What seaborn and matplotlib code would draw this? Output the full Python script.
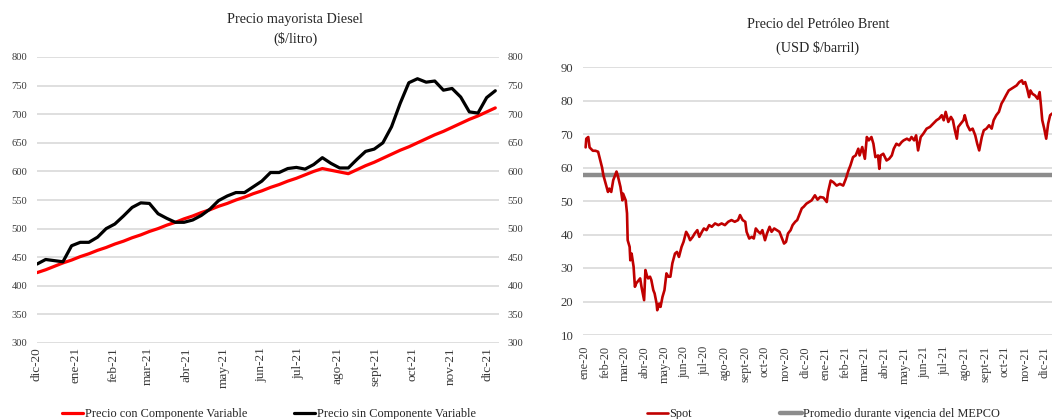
import numpy as np
import pandas as pd
import matplotlib
matplotlib.use("Agg")
import matplotlib.pyplot as plt
import seaborn as sns

# ---------------- data ----------------
# Left: Precio mayorista Diesel ($/litro), weekly
diesel_start = "2020-12-03"
con_componente = [423, 428, 434, 440, 445, 451, 456, 462, 467, 473, 478, 484, 489, 495,
                  500, 506, 511, 517, 522, 528, 533, 539, 544, 550, 555, 561, 566, 572,
                  577, 583, 588, 594, 600, 605, 602, 599, 596, 603, 610, 616, 623, 630,
                  637, 643, 650, 657, 664, 670, 677, 684, 691, 697, 704, 711]
sin_componente = [438, 446, 444, 442, 470, 476, 476, 485, 500, 508, 522, 537, 545, 544,
                  526, 518, 511, 511, 515, 523, 534, 549, 557, 563, 563, 573, 583, 598,
                  598, 605, 607, 604, 612, 624, 614, 606, 606, 621, 635, 639, 650, 678,
                  719, 755, 762, 756, 758, 742, 745, 730, 704, 702, 729, 741]
diesel_tick_labels = ["dic-20", "ene-21", "feb-21", "mar-21", "abr-21", "may-21", "jun-21",
                      "jul-21", "ago-21", "sept-21", "oct-21", "nov-21", "dic-21"]

# Right: Precio del Petróleo Brent (USD $/barril)
spot_dates = [
    "2020-01-02", "2020-01-03", "2020-01-06", "2020-01-08", "2020-01-13", "2020-01-17",
    "2020-01-21", "2020-01-27", "2020-01-29", "2020-02-03", "2020-02-05", "2020-02-07",
    "2020-02-10", "2020-02-13", "2020-02-18", "2020-02-20", "2020-02-24", "2020-02-27",
    "2020-02-28", "2020-03-03", "2020-03-05", "2020-03-06", "2020-03-09", "2020-03-10",
    "2020-03-12", "2020-03-15", "2020-03-17", "2020-03-19", "2020-03-23", "2020-03-25",
    "2020-03-27", "2020-03-31", "2020-04-02", "2020-04-04", "2020-04-06", "2020-04-09",
    "2020-04-11", "2020-04-14", "2020-04-16", "2020-04-19", "2020-04-20", "2020-04-23",
    "2020-04-25", "2020-04-28", "2020-05-01", "2020-05-04", "2020-05-07", "2020-05-10",
    "2020-05-13", "2020-05-17", "2020-05-20", "2020-05-23", "2020-05-27", "2020-05-30",
    "2020-06-03", "2020-06-06", "2020-06-09", "2020-06-13", "2020-06-16", "2020-06-20",
    "2020-06-23", "2020-06-27", "2020-06-30", "2020-07-04", "2020-07-08", "2020-07-12",
    "2020-07-17", "2020-07-22", "2020-07-27", "2020-08-01", "2020-08-06", "2020-08-11",
    "2020-08-16", "2020-08-21", "2020-08-24", "2020-08-28", "2020-09-01", "2020-09-03",
    "2020-09-07", "2020-09-11", "2020-09-14", "2020-09-17", "2020-09-21", "2020-09-24",
    "2020-09-27", "2020-10-01", "2020-10-04", "2020-10-08", "2020-10-11", "2020-10-15",
    "2020-10-19", "2020-10-23", "2020-10-26", "2020-10-30", "2020-11-02", "2020-11-05",
    "2020-11-09", "2020-11-12", "2020-11-16", "2020-11-19", "2020-11-22", "2020-11-26",
    "2020-11-29", "2020-12-03", "2020-12-11", "2020-12-16", "2020-12-20", "2020-12-24",
    "2020-12-29", "2021-01-03", "2021-01-05", "2021-01-09", "2021-01-13", "2021-01-18",
    "2021-01-23", "2021-01-28", "2021-02-01", "2021-02-05", "2021-02-08", "2021-02-12",
    "2021-02-16", "2021-02-20", "2021-02-22", "2021-02-26", "2021-03-02", "2021-03-05",
    "2021-03-08", "2021-03-12", "2021-03-15", "2021-03-18", "2021-03-22", "2021-03-24",
    "2021-03-26", "2021-03-30", "2021-04-04", "2021-04-08", "2021-04-12", "2021-04-15",
    "2021-04-19", "2021-04-23", "2021-04-27", "2021-04-30", "2021-05-05", "2021-05-09",
    "2021-05-12", "2021-05-16", "2021-05-19", "2021-05-22", "2021-05-26", "2021-05-30",
    "2021-06-04", "2021-06-09", "2021-06-14", "2021-06-19", "2021-06-23", "2021-06-27",
    "2021-06-30", "2021-07-03", "2021-07-07", "2021-07-11", "2021-07-14", "2021-07-17",
    "2021-07-20", "2021-07-22", "2021-07-26", "2021-07-30", "2021-08-01", "2021-08-05",
    "2021-08-09", "2021-08-13", "2021-08-17", "2021-08-20", "2021-08-23", "2021-08-27",
    "2021-08-30", "2021-09-03", "2021-09-07", "2021-09-11", "2021-09-14", "2021-09-18",
    "2021-09-22", "2021-09-26", "2021-09-29", "2021-10-03", "2021-10-07", "2021-10-11",
    "2021-10-15", "2021-10-19", "2021-10-23", "2021-10-27", "2021-10-29", "2021-11-01",
    "2021-11-04", "2021-11-07", "2021-11-09", "2021-11-12", "2021-11-16", "2021-11-20",
    "2021-11-23", "2021-11-25", "2021-11-27", "2021-11-30", "2021-12-03", "2021-12-06",
    "2021-12-09", "2021-12-12"]
spot_values = [
    66.0, 68.6, 69.1, 66.0, 65.0, 65.0, 64.7, 60.0, 57.7, 54.2, 52.7, 53.7,
    52.7, 56.2, 58.8, 57.5, 54.2, 50.2, 52.2, 50.2, 46.3, 38.3, 36.3, 32.3,
    34.3, 30.4, 24.4, 25.4, 26.4, 26.9, 24.4, 20.4, 29.4, 27.9, 26.9, 27.4,
    26.4, 23.4, 22.4, 19.4, 17.4, 19.4, 18.4, 21.4, 23.4, 28.4, 27.4, 27.4,
    31.4, 34.3, 34.8, 33.3, 36.3, 37.8, 40.8, 39.8, 38.3, 39.3, 40.3, 41.3,
    39.3, 40.8, 41.8, 41.3, 42.8, 42.3, 43.3, 42.8, 43.3, 42.8, 43.8, 44.3,
    43.8, 44.3, 45.8, 44.3, 43.8, 40.8, 38.8, 39.3, 38.8, 41.8, 40.8, 40.3,
    41.3, 38.3, 40.3, 42.3, 40.8, 41.8, 41.3, 40.8, 39.3, 37.3, 37.8, 40.3,
    41.3, 42.8, 43.8, 44.3, 45.8, 47.8, 48.3, 49.2, 50.2, 51.7, 50.4, 51.2,
    51.0, 49.7, 52.7, 56.1, 55.6, 54.6, 55.1, 54.6, 56.6, 59.1, 60.6, 63.1,
    63.6, 65.6, 63.6, 66.1, 62.6, 69.1, 68.1, 69.1, 67.1, 63.1, 63.6, 59.6,
    63.6, 64.1, 62.1, 62.6, 63.6, 65.6, 67.1, 66.6, 67.6, 68.1, 68.6, 68.1,
    69.1, 68.1, 69.6, 65.1, 69.1, 70.1, 71.6, 72.1, 73.1, 74.1, 74.6, 75.6,
    74.1, 76.6, 73.6, 75.1, 74.1, 71.1, 68.6, 72.1, 73.1, 74.1, 75.6, 72.6,
    71.1, 71.6, 69.6, 67.1, 65.1, 69.1, 71.1, 71.6, 72.6, 71.6, 74.1, 75.6,
    76.6, 79.1, 80.1, 81.6, 83.0, 83.5, 84.0, 84.5, 85.5, 86.0, 85.0, 85.5,
    83.5, 81.0, 83.0, 82.0, 81.5, 80.5, 82.5, 78.5, 74.1, 71.6, 68.6, 73.1,
    75.6, 76.1]
mepco_promedio = 57.8
brent_tick_labels = ["ene-20", "feb-20", "mar-20", "abr-20", "may-20", "jun-20", "jul-20",
                     "ago-20", "sept-20", "oct-20", "nov-20", "dic-20", "ene-21", "feb-21",
                     "mar-21", "abr-21", "may-21", "jun-21", "jul-21", "ago-21", "sept-21",
                     "oct-21", "nov-21", "dic-21"]

# ---------------- style ----------------
sns.set_theme(style="white")
plt.rcParams["font.family"] = ["Liberation Serif", "DejaVu Serif"]
TXT = "#3a3a3a"
GRID = "#D9D9D9"

W, H = 1052, 419
fig = plt.figure(figsize=(W / 100, H / 100), dpi=100)


def box(x0, y0, x1, y1):
    return [x0 / W, 1 - y1 / H, (x1 - x0) / W, (y1 - y0) / H]


# ---------------- left chart ----------------
ax1 = fig.add_axes(box(37, 57, 499, 343))
d_dates = pd.date_range(diesel_start, periods=len(con_componente), freq="7D")
df_d = pd.DataFrame({"fecha": d_dates, "con": con_componente, "sin": sin_componente})
sns.lineplot(data=df_d, x="fecha", y="con", ax=ax1, color="#FF0000", lw=2.3,
             label="Precio con Componente Variable")
sns.lineplot(data=df_d, x="fecha", y="sin", ax=ax1, color="#000000", lw=2.3,
             label="Precio sin Componente Variable")
ax1.set_ylim(300, 800)
ax1.set_yticks(np.arange(300, 801, 50))
ax1.set_xlim(pd.Timestamp("2020-12-03"), pd.Timestamp("2021-12-12"))
d_ticks = [pd.Timestamp(diesel_start) + pd.DateOffset(months=i) for i in range(len(diesel_tick_labels))]
ax1.set_xticks(d_ticks)
ax1.set_xticklabels(diesel_tick_labels, rotation=90)
ax1.set_xlabel("")
ax1.set_ylabel("")
ax1.grid(axis="y", color=GRID, lw=1.2)
ax1.grid(axis="x", visible=False)
for s in ax1.spines.values():
    s.set_visible(False)
ax1.tick_params(axis="y", length=0, pad=7, labelsize=7.6, labelcolor=TXT)
ax1.tick_params(axis="x", length=0, pad=3, labelsize=9.5, labelcolor=TXT)
h1, l1 = ax1.get_legend_handles_labels()
ax1.get_legend().remove()

ax1r = ax1.twinx()
ax1r.set_ylim(300, 800)
ax1r.set_yticks(np.arange(300, 801, 50))
ax1r.grid(False)
for s in ax1r.spines.values():
    s.set_visible(False)
ax1r.tick_params(axis="y", length=0, pad=6, labelsize=7.6, labelcolor=TXT)

fig.text(295 / W, 1 - 20 / H, "Precio mayorista Diesel", ha="center", va="center",
         fontsize=10.3, color="#262626")
fig.text(295 / W, 1 - 39 / H, "($/litro)", ha="center", va="center",
         fontsize=10.3, color="#262626")

fig.legend(h1, l1, loc="center left", bbox_to_anchor=(62 / W, 1 - 414 / H), ncol=2,
           frameon=False, fontsize=8.8, handlelength=1.75, handletextpad=0.15,
           columnspacing=3.8, borderpad=0, borderaxespad=0, labelcolor="#262626")

# ---------------- right chart ----------------
ax2 = fig.add_axes(box(583, 67, 1064.6, 335))
df_b = pd.DataFrame({"fecha": pd.to_datetime(spot_dates), "spot": spot_values})
sns.lineplot(data=df_b, x="fecha", y="spot", ax=ax2, color="#C00000", lw=1.9, label="Spot")
ax2.axhline(mepco_promedio, color="#8C8C8C", lw=3.2,
            label="Promedio durante vigencia del MEPCO", zorder=1)
ax2.set_ylim(10, 90)
ax2.set_yticks(np.arange(10, 91, 10))
ax2.set_xlim(pd.Timestamp("2019-12-29"), pd.Timestamp("2021-12-31"))
b_ticks = [pd.Timestamp("2020-01-01") + pd.DateOffset(months=i) for i in range(len(brent_tick_labels))]
ax2.set_xticks(b_ticks)
ax2.set_xticklabels(brent_tick_labels, rotation=90)
ax2.set_xlabel("")
ax2.set_ylabel("")
ax2.grid(axis="y", color=GRID, lw=1.2)
ax2.grid(axis="x", visible=False)
for s in ax2.spines.values():
    s.set_visible(False)
ax2.tick_params(axis="y", length=0, pad=7, labelsize=9.2, labelcolor=TXT)
ax2.tick_params(axis="x", length=0, pad=8, labelsize=8.8, labelcolor=TXT)
h2, l2 = ax2.get_legend_handles_labels()
ax2.get_legend().remove()

fig.text(818 / W, 1 - 25 / H, "Precio del Petróleo Brent", ha="center", va="center",
         fontsize=10.2, color="#262626")
fig.text(818 / W, 1 - 48 / H, "(USD $/barril)", ha="center", va="center",
         fontsize=10.2, color="#262626")

fig.legend(h2, l2, loc="center left", bbox_to_anchor=(647 / W, 1 - 414 / H), ncol=2,
           frameon=False, fontsize=8.8, handlelength=1.75, handletextpad=0.1,
           columnspacing=7.2, borderpad=0, borderaxespad=0, labelcolor="#262626")

fig.savefig("out.png", dpi=100)
